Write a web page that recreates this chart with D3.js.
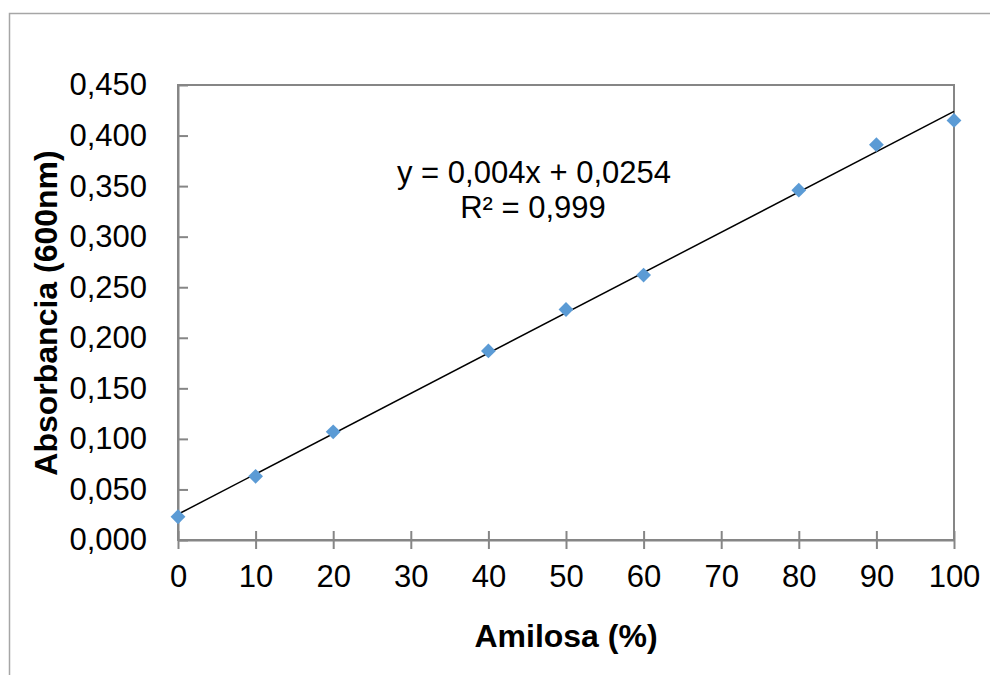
<!DOCTYPE html>
<html>
<head>
<meta charset="utf-8">
<script src="https://cdn.jsdelivr.net/npm/d3@7"></script>
<style>
	body { margin: 0; background: #fff; }
	text { font-family: "Liberation Sans", Arial, sans-serif; fill: #000; }
</style>
</head>
<body>
<div id="chart"></div>
<script>
// datos de la curva de calibracion
let amilosa = [0, 10, 20, 40, 50, 60, 80, 90, 100];
let absorbancia = [0.023, 0.063, 0.107, 0.187, 0.228, 0.262, 0.346, 0.391, 0.415];
let yTicks = [0, 0.05, 0.1, 0.15, 0.2, 0.25, 0.3, 0.35, 0.4, 0.45];
let xTicks = [0, 10, 20, 30, 40, 50, 60, 70, 80, 90, 100];

let width = 990, height = 675;
let margin = {top: 85, right: 36, bottom: 135, left: 178};

let svg = d3.select('#chart').append('svg')
	.attr('width', width)
	.attr('height', height);

// marco exterior
svg.append('rect')
	.attr('x', 9.5)
	.attr('y', 13.5)
	.attr('width', 1000)
	.attr('height', 700)
	.style('fill', 'none')
	.style('stroke', '#a6a6a6')
	.style('stroke-width', '1.5px');

let x = d3.scaleLinear().domain([0, 100]).range([margin.left, width - margin.right]);
let y = d3.scaleLinear().domain([0, 0.45]).range([height - margin.bottom, margin.top]);

let fmt = d => d3.format('.3f')(d).replace('.', ',');

// borde del area de trazado
svg.append('rect')
	.attr('x', x(0))
	.attr('y', y(0.45))
	.attr('width', x(100) - x(0))
	.attr('height', y(0) - y(0.45))
	.style('fill', 'none')
	.style('stroke', '#868686')
	.style('stroke-width', '2px');

let yAxis = svg.append('g')
	.attr('transform', 'translate(' + x(0) + ',0)')
	.call(d3.axisLeft(y).tickValues(yTicks).tickFormat(fmt).tickSizeInner(10).tickSizeOuter(0).tickPadding(21));
yAxis.selectAll('.tick line').attr('x2', 10);

let xAxis = svg.append('g')
	.attr('transform', 'translate(0,' + y(0) + ')')
	.call(d3.axisBottom(x).tickValues(xTicks).tickSizeInner(9).tickSizeOuter(0).tickPadding(16));
xAxis.selectAll('.tick line').attr('y1', -9);

svg.selectAll('.domain, .tick line')
	.style('stroke', '#868686')
	.style('stroke-width', '2px');
svg.selectAll('.tick text')
	.style('font-size', '31px')
	.style('fill', '#000');

// linea de tendencia (minimos cuadrados)
let mx = d3.mean(amilosa), my = d3.mean(absorbancia);
let slope = d3.sum(amilosa, (d, i) => (d - mx) * (absorbancia[i] - my)) / d3.sum(amilosa, d => (d - mx) * (d - mx));
let intercept = my - slope * mx;

svg.append('line')
	.attr('x1', x(0))
	.attr('y1', y(intercept))
	.attr('x2', x(100))
	.attr('y2', y(intercept + slope * 100))
	.style('stroke', '#000')
	.style('stroke-width', '1.5px');

// puntos
let points = amilosa.map((d, i) => ({x: d, y: absorbancia[i]}));
svg.selectAll('path.punto')
	.data(points)
	.join('path')
	.classed('punto', true)
	.attr('d', d3.symbol().type(d3.symbolSquare).size(110))
	.attr('transform', d => 'translate(' + x(d.x) + ',' + y(d.y) + ') rotate(45)')
	.style('fill', '#5b9bd5');

// ecuacion
svg.append('text')
	.attr('x', 534)
	.attr('y', 183)
	.attr('text-anchor', 'middle')
	.style('font-size', '31px')
	.text('y = 0,004x + 0,0254');
svg.append('text')
	.attr('x', 533)
	.attr('y', 218)
	.attr('text-anchor', 'middle')
	.style('font-size', '31px')
	.text('R² = 0,999');

// titulos de ejes
svg.append('text')
	.attr('x', 566)
	.attr('y', 647)
	.attr('text-anchor', 'middle')
	.style('font-size', '32px')
	.style('font-weight', 'bold')
	.text('Amilosa (%)');
svg.append('text')
	.attr('transform', 'translate(57,' + 313 + ') rotate(-90)')
	.attr('text-anchor', 'middle')
	.style('font-size', '32px')
	.style('font-weight', 'bold')
	.text('Absorbancia (600nm)');
</script>
</body>
</html>
